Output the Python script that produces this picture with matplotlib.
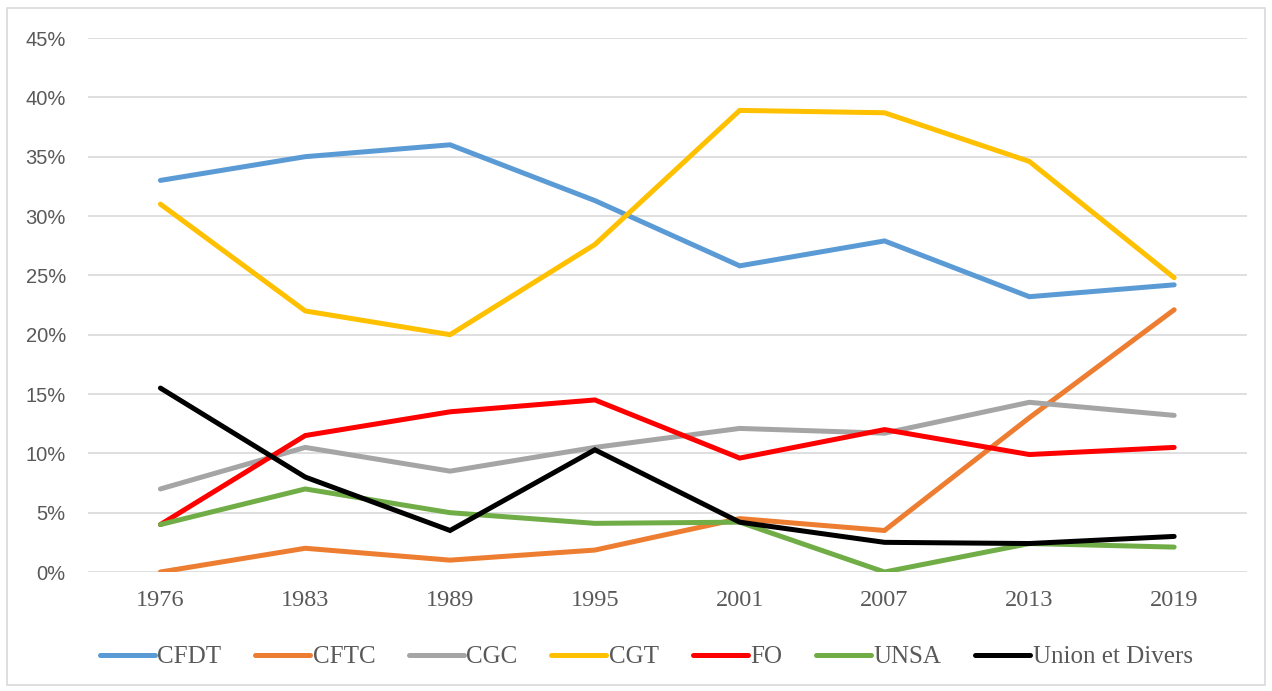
import matplotlib.pyplot as plt
from matplotlib.patches import Rectangle
from matplotlib.ticker import PercentFormatter

# election results by union, in percent
years = ['1976', '1983', '1989', '1995', '2001', '2007', '2013', '2019']
cfdt = [33.0, 35.0, 36.0, 31.3, 25.8, 27.9, 23.2, 24.2]
cftc = [0.0, 2.0, 1.0, 1.85, 4.5, 3.5, 13.0, 22.1]
cgc = [7.0, 10.5, 8.5, 10.5, 12.1, 11.7, 14.3, 13.2]
cgt = [31.0, 22.0, 20.0, 27.6, 38.9, 38.7, 34.6, 24.8]
fo = [4.0, 11.5, 13.5, 14.5, 9.6, 12.0, 9.9, 10.5]
unsa = [4.0, 7.0, 5.0, 4.1, 4.2, 0.0, 2.4, 2.1]
divers = [15.5, 8.0, 3.5, 10.3, 4.2, 2.5, 2.4, 3.0]

series = [('CFDT', cfdt, '#5B9BD5'), ('CFTC', cftc, '#ED7D31'),
          ('CGC', cgc, '#A5A5A5'), ('CGT', cgt, '#FFC000'),
          ('FO', fo, '#FF0000'), ('UNSA', unsa, '#70AD47'),
          ('Union et Divers', divers, '#000000')]

fig = plt.figure(figsize=(12.72, 6.91), dpi=100)
ax = fig.add_axes([0.0692, 0.1722, 0.9108, 0.7728])

x = range(len(years))
for name, vals, col in series:
    ax.plot(x, vals, color=col, lw=3.6, label=name, solid_capstyle='round',
            solid_joinstyle='miter')

ax.set_xlim(-0.5, len(years) - 0.5)
ax.set_ylim(0, 45)
ax.set_yticks(range(0, 46, 5))
ax.yaxis.set_major_formatter(PercentFormatter(decimals=0))
ax.set_xticks(list(x))
ax.set_xticklabels(years, family='Liberation Serif', fontsize=17.5, color='#595959')
for lab in ax.get_yticklabels():
    lab.set_family('Liberation Sans')
    lab.set_fontsize(14.5)
    lab.set_color('#595959')
ax.tick_params(axis='x', length=0, pad=13)
ax.tick_params(axis='y', length=0, pad=16)
ax.grid(axis='y', color='#D9D9D9', lw=1.2)
ax.set_axisbelow(True)
for s in ax.spines.values():
    s.set_visible(False)

leg = fig.legend(loc='center', bbox_to_anchor=(0.508, 0.049), ncol=7, frameon=False,
                 prop={'family': 'Liberation Serif', 'size': 18},
                 handlelength=2.2, handletextpad=0.1, columnspacing=1.35)
for t in leg.get_texts():
    t.set_color('#595959')

fig.patches.append(Rectangle((7 / 1272, 6 / 691), 1258 / 1272, 677 / 691,
                             transform=fig.transFigure, fill=False,
                             edgecolor='#D9D9D9', lw=1.2))

fig.savefig('out.png', dpi=100)
